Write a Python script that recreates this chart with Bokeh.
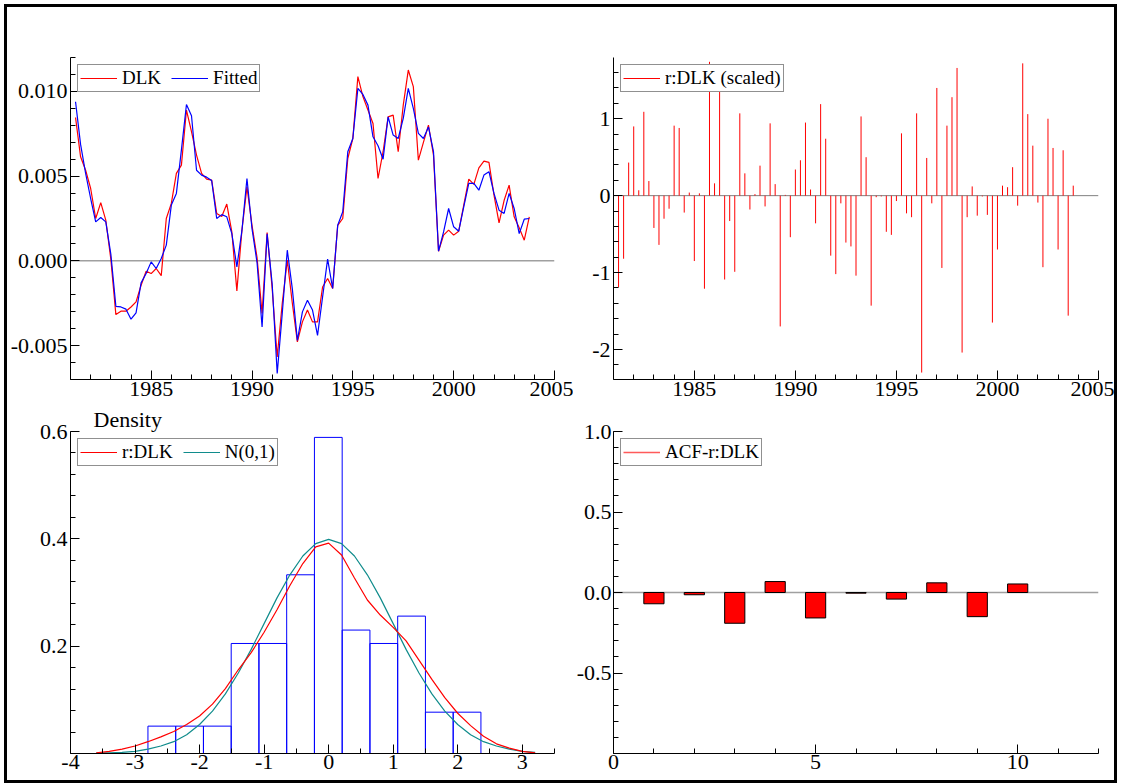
import pandas as pd
from bokeh.plotting import figure
from bokeh.layouts import gridplot
from bokeh.models import (FixedTicker, PrintfTickFormatter, Span, Legend, LegendItem, Range1d)
from bokeh.embed import file_html
from bokeh.resources import INLINE

# ---------------- data ----------------
quarters = pd.period_range("1981Q2", "2003Q4", freq="Q")
dates = [q.year + (q.quarter - 1) / 4 for q in quarters]

dlk = [0.00846, 0.00614, 0.00535, 0.00427, 0.00250, 0.00344, 0.00240, 0.00010, -0.00317, -0.00297,
       -0.00297, -0.00272, -0.00242, -0.00144, -0.00061, -0.00075, -0.00045, -0.00087, 0.00250, 0.00339,
       0.00516, 0.00565, 0.00890, 0.00762, 0.00624, 0.00516, 0.00482, 0.00476, 0.00280, 0.00262,
       0.00335, 0.00171, -0.00177, 0.00180, 0.00437, 0.00210, 0.00020, -0.00310, 0.00167, -0.00163,
       -0.00567, -0.00250, 0.00004, -0.00250, -0.00478, -0.00360, -0.00290, -0.00360, -0.00360, -0.00154,
       -0.00104, -0.00163, 0.00210, 0.00250, 0.00604, 0.00722, 0.01087, 0.00969, 0.00890, 0.00811,
       0.00486, 0.00644, 0.00850, 0.00860, 0.00644, 0.00919, 0.01126, 0.01028, 0.00594, 0.00699,
       0.00801, 0.00624, 0.00057, 0.00152, 0.00181, 0.00152, 0.00175, 0.00329, 0.00482, 0.00451,
       0.00549, 0.00589, 0.00581, 0.00388, 0.00224, 0.00356, 0.00447, 0.00260, 0.00195, 0.00122,
       0.00260]

fitted = [0.00939, 0.00687, 0.00516, 0.00368, 0.00230, 0.00256, 0.00230, 0.00040, -0.00268, -0.00272,
          -0.00285, -0.00344, -0.00307, -0.00130, -0.00075, -0.00006, -0.00045, 0.00014, 0.00093, 0.00329,
          0.00398, 0.00655, 0.00923, 0.00856, 0.00535, 0.00506, 0.00494, 0.00474, 0.00250, 0.00273,
          0.00260, 0.00161, -0.00035, 0.00178, 0.00486, 0.00190, -0.00010, -0.00390, 0.00160, -0.00135,
          -0.00665, -0.00310, 0.00063, -0.00165, -0.00469, -0.00301, -0.00232, -0.00290, -0.00440, -0.00213,
          0.00010, -0.00163, 0.00210, 0.00290, 0.00644, 0.00722, 0.01018, 0.00982, 0.00919, 0.00732,
          0.00679, 0.00600, 0.00850, 0.00742, 0.00722, 0.00841, 0.01018, 0.00900, 0.00752, 0.00722,
          0.00790, 0.00644, 0.00057, 0.00171, 0.00309, 0.00201, 0.00175, 0.00319, 0.00457, 0.00457,
          0.00417, 0.00506, 0.00526, 0.00398, 0.00299, 0.00280, 0.00398, 0.00309, 0.00161, 0.00246,
          0.00250]

resid_scaled = [-1.19, -0.82, 0.43, 0.90, 0.07, 1.09, 0.19, -0.42, -0.64, -0.30,
                -0.17, 0.91, 0.88, -0.22, 0.04, -0.85, 0.03, -1.21, 1.74, 0.16,
                1.46, -1.09, -0.33, -0.99, 1.07, 0.29, -0.18, 0.02, 0.39, -0.14,
                0.94, 0.15, -1.70, 0.01, -0.54, 0.34, 0.46, 0.95, 0.08, -0.36,
                1.19, 0.74, -0.78, -1.02, -0.10, -0.61, -0.66, -1.04, 1.03, 0.50,
                -1.43, -0.02, -0.01, -0.47, -0.51, -0.07, 0.81, -0.23, -0.28, 1.07,
                -2.30, 0.49, -0.10, 1.40, -0.94, 0.91, 1.28, 1.66, -2.04, -0.28,
                0.12, -0.26, -0.01, -0.25, -1.65, -0.70, 0.13, 0.11, 0.37, -0.13,
                1.72, 1.06, 0.65, -0.09, -0.93, 1.00, 0.62, -0.70, 0.59, -1.56, 0.13]

hist_edges = [-2.80, -2.37, -1.94, -1.51, -1.08, -0.65, -0.22, 0.21, 0.64, 1.07, 1.50, 1.93, 2.36]
hist_density = [0.051, 0.051, 0.051, 0.205, 0.205, 0.333, 0.589, 0.230, 0.205, 0.256, 0.077, 0.077]

dens_x = [-3.6, -3.4, -3.2, -3.0, -2.8, -2.6, -2.4, -2.2, -2.0, -1.8, -1.6, -1.4,
          -1.2, -1.0, -0.8, -0.6, -0.4, -0.2, 0.0, 0.2, 0.4, 0.6, 0.8, 1.0,
          1.2, 1.4, 1.6, 1.8, 2.0, 2.2, 2.4, 2.6, 2.8, 3.0, 3.2]
dens_kernel = [0.001, 0.004, 0.008, 0.014, 0.022, 0.031, 0.041, 0.054, 0.070, 0.092, 0.121, 0.156,
               0.188, 0.226, 0.268, 0.313, 0.354, 0.385, 0.392, 0.370, 0.327, 0.286, 0.258, 0.235,
               0.210, 0.174, 0.138, 0.104, 0.075, 0.052, 0.032, 0.018, 0.010, 0.004, 0.001]
dens_normal = [0.001, 0.001, 0.002, 0.004, 0.008, 0.014, 0.022, 0.035, 0.054, 0.079, 0.111, 0.150,
               0.194, 0.242, 0.290, 0.333, 0.368, 0.391, 0.399, 0.391, 0.368, 0.333, 0.290, 0.242,
               0.194, 0.150, 0.111, 0.079, 0.054, 0.035, 0.022, 0.014, 0.008, 0.004, 0.002]

acf_lags = [1, 2, 3, 4, 5, 6, 7, 8, 9, 10]
acf_values = [-0.070, -0.014, -0.191, 0.068, -0.158, -0.004, -0.041, 0.060, -0.150, 0.053]

year_ticks = [1985, 1990, 1995, 2000, 2005]
year_minor = list(range(1981, 2006))

FONT = "Liberation Serif, Times New Roman, Times, serif"
TICK_FS = "22px"
LEG_FS = "19px"


def make_fig(w, h, xr, yr, bl, br, bt, bb):
    p = figure(width=w, height=h, x_range=Range1d(*xr), y_range=Range1d(*yr),
               output_backend="svg", toolbar_location=None,
               min_border_left=bl, min_border_right=br, min_border_top=bt, min_border_bottom=bb)
    p.outline_line_color = None
    p.xgrid.visible = False
    p.ygrid.visible = False
    p.background_fill_color = "white"
    p.border_fill_color = "white"
    for ax in (p.xaxis[0], p.yaxis[0]):
        ax.axis_line_color = "black"
        ax.axis_line_width = 1
        ax.major_tick_in = 9
        ax.major_tick_out = 0
        ax.minor_tick_in = 5
        ax.minor_tick_out = 0
        ax.major_tick_line_color = "black"
        ax.minor_tick_line_color = "black"
        ax.major_label_text_font = FONT
        ax.major_label_text_font_size = TICK_FS
        ax.major_label_text_color = "black"
        ax.major_label_text_font_style = "normal"
    p.yaxis[0].major_label_standoff = 3
    return p


def add_legend(p, items):
    leg = Legend(items=items, location="top_left", orientation="horizontal",
                 label_text_font=FONT, label_text_font_size=LEG_FS, label_text_color="black",
                 glyph_width=37, glyph_height=18, label_height=18, label_standoff=5,
                 spacing=10, padding=2, margin=7,
                 border_line_color="#222222", border_line_width=1,
                 background_fill_color="white", background_fill_alpha=1)
    p.add_layout(leg)


# ---------------- top-left: DLK & Fitted ----------------
p1 = make_fig(566, 399, (1981, 2005), (-0.007, 0.012), 63, 19, 50, 27)
p1.add_layout(Span(location=0, dimension="width", line_color="#a0a0a0", line_width=1.5, level="underlay"))
r_dlk = p1.line(dates, dlk, line_color="#ff0000", line_width=1.2)
r_fit = p1.line(dates, fitted, line_color="#0000ff", line_width=1.2)
p1.xaxis[0].ticker = FixedTicker(ticks=year_ticks, minor_ticks=year_minor)
p1.xaxis[0].major_label_standoff = 2
p1.yaxis[0].ticker = FixedTicker(ticks=[-0.005, 0.0, 0.005, 0.010],
                                 minor_ticks=[round(-0.007 + 0.001 * k, 3) for k in range(20)])
p1.yaxis[0].formatter = PrintfTickFormatter(format="%.3f")
add_legend(p1, [LegendItem(label="DLK", renderers=[r_dlk]),
                LegendItem(label="Fitted", renderers=[r_fit])])

# ---------------- top-right: scaled residuals ----------------
p2 = make_fig(541, 399, (1981, 2005), (-2.39, 1.796), 39, 16, 50, 27)
p2.add_layout(Span(location=0, dimension="width", line_color="#808080", line_width=1, level="underlay"))
r_res = p2.segment(x0=dates, y0=[0] * len(dates), x1=dates, y1=resid_scaled,
                   line_color="#ff0000", line_width=1)
p2.xaxis[0].ticker = FixedTicker(ticks=year_ticks, minor_ticks=year_minor)
p2.xaxis[0].major_label_standoff = 2
p2.yaxis[0].ticker = FixedTicker(ticks=[-2, -1, 0, 1],
                                 minor_ticks=[round(-2.2 + 0.2 * k, 1) for k in range(20)])
p2.yaxis[0].formatter = PrintfTickFormatter(format="%d")
add_legend(p2, [LegendItem(label="r:DLK (scaled)", renderers=[r_res])])

# ---------------- bottom-left: density ----------------
p3 = make_fig(566, 374, (-4, 3.5), (0, 0.6), 63, 19, 25, 27)
p3.title.text = "Density"
p3.title.align = "left"
p3.title.vertical_align = "top"
p3.title.offset = 23
p3.title.standoff = -4
p3.title.text_font = FONT
p3.title.text_font_size = "22px"
p3.title.text_font_style = "normal"
p3.title.text_color = "black"
p3.title.text_line_height = 1.0
p3.quad(left=hist_edges[:-1], right=hist_edges[1:], bottom=0, top=hist_density,
        fill_alpha=0, line_color="#0000ff", line_width=1)
r_norm = p3.line(dens_x, dens_normal, line_color="#108c8c", line_width=1.2)
r_kern = p3.line(dens_x, dens_kernel, line_color="#ff0000", line_width=1.2)
p3.xaxis[0].ticker = FixedTicker(ticks=[-4, -3, -2, -1, 0, 1, 2, 3],
                                 minor_ticks=[-3.5 + 0.5 * k for k in range(15)])
p3.xaxis[0].formatter = PrintfTickFormatter(format="%d")
p3.xaxis[0].major_label_standoff = 1
p3.yaxis[0].ticker = FixedTicker(ticks=[0.2, 0.4, 0.6],
                                 minor_ticks=[round(0.04 * k, 2) for k in range(16)])
p3.yaxis[0].formatter = PrintfTickFormatter(format="%.1f")
add_legend(p3, [LegendItem(label="r:DLK", renderers=[r_kern]),
                LegendItem(label="N(0,1)", renderers=[r_norm])])

# ---------------- bottom-right: ACF ----------------
p4 = make_fig(541, 374, (0, 12), (-1, 1), 39, 16, 25, 27)
p4.add_layout(Span(location=0, dimension="width", line_color="#a0a0a0", line_width=1.5, level="underlay"))
p4.vbar(x=acf_lags, top=acf_values, bottom=0, width=0.5,
        fill_color="#ff0000", line_color="black", line_width=1)
r_acf_leg = p4.line(x=[float("nan")], y=[float("nan")], line_color="#ff5a5a", line_width=1.5)
p4.xaxis[0].ticker = FixedTicker(ticks=[0, 5, 10], minor_ticks=list(range(0, 13)))
p4.xaxis[0].formatter = PrintfTickFormatter(format="%d")
p4.xaxis[0].major_label_standoff = 1
p4.yaxis[0].ticker = FixedTicker(ticks=[-0.5, 0.0, 0.5, 1.0],
                                 minor_ticks=[round(-1.0 + 0.1 * k, 1) for k in range(21)])
p4.yaxis[0].formatter = PrintfTickFormatter(format="%.1f")
p4.yaxis[0].major_label_standoff = 2
add_legend(p4, [LegendItem(label="ACF-r:DLK", renderers=[r_acf_leg])])

grid = gridplot([[p1, p2], [p3, p4]], toolbar_location=None)
grid.styles = {"border": "3px solid black", "margin-left": "4px", "margin-top": "4px"}

open("out.html", "w").write(file_html(grid, INLINE))
